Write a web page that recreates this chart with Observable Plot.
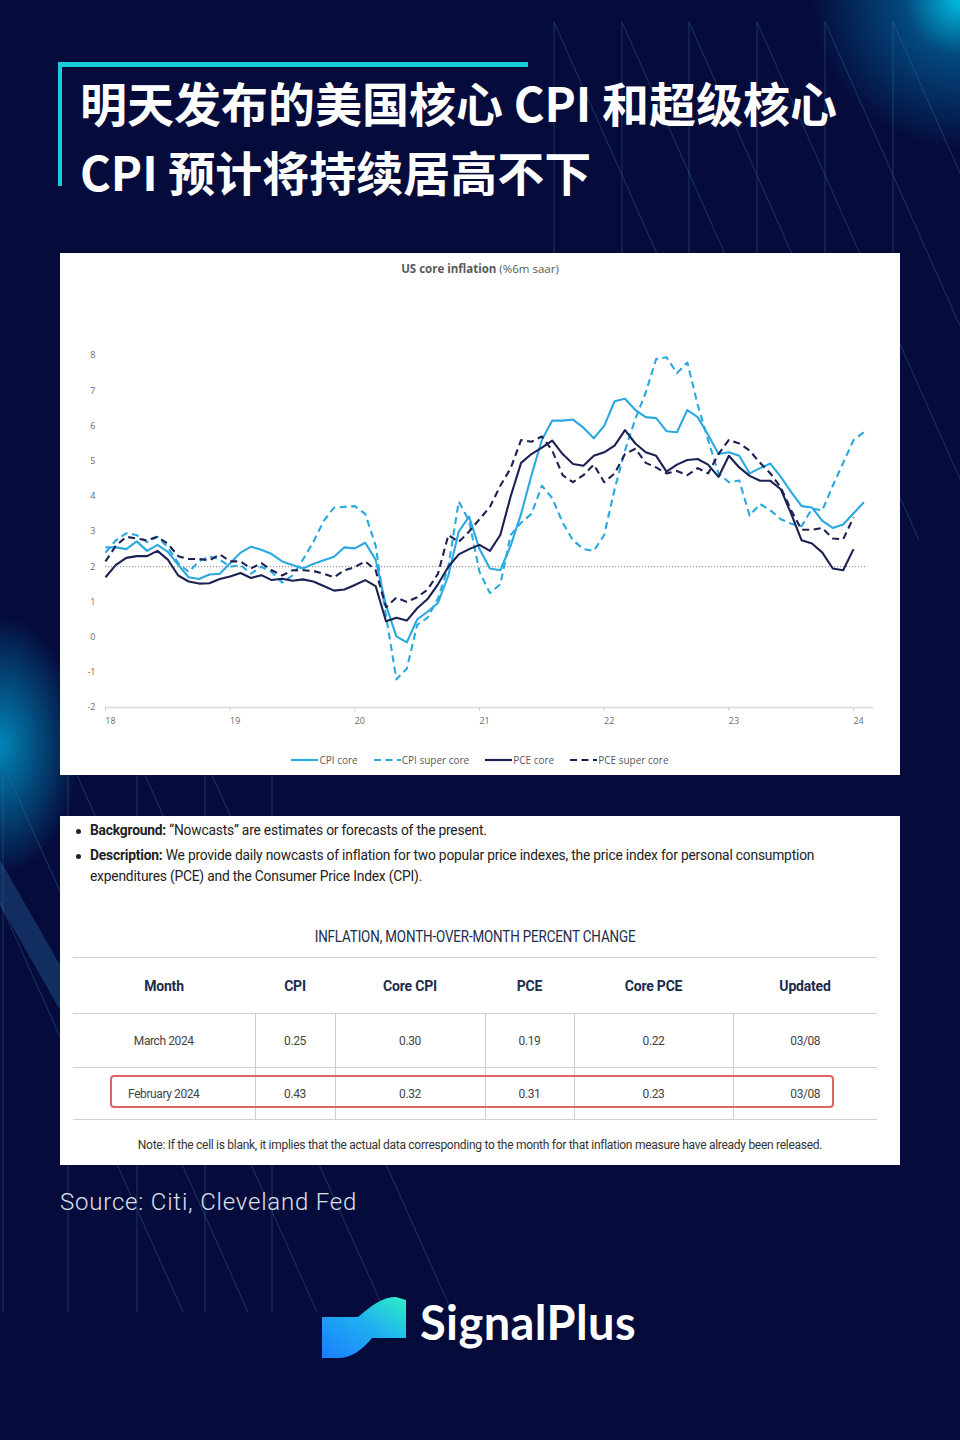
<!DOCTYPE html>
<html><head><meta charset="utf-8">
<script src="https://cdn.jsdelivr.net/npm/d3@7"></script>
<script src="https://cdn.jsdelivr.net/npm/@observablehq/plot@0.6"></script>
<style>
html,body{margin:0;padding:0;background:#050b3b;}
#page{position:relative;width:960px;height:1440px;overflow:hidden;
 background:
  radial-gradient(circle at 960px 0px, rgba(0,200,235,0.95) 0px, rgba(0,150,210,0.45) 55px, rgba(5,11,59,0) 150px),
  radial-gradient(ellipse 80px 130px at 0px 745px, rgba(0,175,225,0.75), rgba(5,11,59,0) 100%),
  #050b3b;}
#deco{position:absolute;left:0;top:0;}
.abs{position:absolute;}
#title{left:80px;top:67px;color:#fff;font-family:"Noto Sans CJK SC",sans-serif;font-weight:700;font-size:47px;line-height:69px;white-space:nowrap;}
#panel1{left:60px;top:253px;width:840px;height:522px;background:#fff;}
#ctitle{left:0;top:8px;width:840px;text-align:center;font-family:"Open Sans",sans-serif;font-size:11.5px;color:#595959;}
#chart{left:0;top:30px;}
#legend{left:0;top:500px;width:840px;display:flex;justify-content:center;gap:16px;font-family:"Open Sans",sans-serif;font-size:10px;color:#595959;}
#legend .it{display:flex;align-items:center;gap:1px;}
#panel2{left:60px;top:816px;width:840px;height:349px;background:#fff;font-family:Roboto,sans-serif;}
.bul{position:absolute;left:30px;font-size:13.8px;color:#222;letter-spacing:-0.2px;line-height:21px;white-space:nowrap;}
.dot{position:absolute;left:16px;width:5px;height:5px;border-radius:50%;background:#222;}
.bul b{font-weight:700;}
#ttitle{left:0;top:110px;width:830px;text-align:center;}
#ttitle span{display:inline-block;font-size:17px;color:#1c2b4b;transform:scaleX(0.79);letter-spacing:-0.2px;white-space:nowrap;}
table{position:absolute;left:13px;top:141px;width:804px;border-collapse:collapse;}
td,th{text-align:center;padding:0;}
th{height:55px;font-size:14px;font-weight:700;color:#1c2b4b;border-top:1px solid #cfcfcf;border-bottom:1px solid #cfcfcf;letter-spacing:-0.2px;}
td{font-size:12px;color:#444;border:1px solid #cfcfcf;letter-spacing:-0.4px;}
tr.r1 td{height:53px;}
tr.r2 td{height:51px;}
td:first-child{border-left:none;}
td:last-child{border-right:none;}
#redbox{left:50px;top:259px;width:720px;height:29px;border:2.5px solid #e06464;border-radius:4px;}
#note{left:0;top:322px;width:840px;text-align:center;font-size:12px;color:#333;letter-spacing:-0.28px;}
#source{left:60px;top:1188px;color:#dde0ec;font-family:Roboto,sans-serif;font-weight:300;font-size:24px;letter-spacing:0.8px;}
#logotext{left:420px;top:1294px;color:#fff;font-family:Lato,sans-serif;font-weight:700;font-size:47px;letter-spacing:0.4px;}
</style></head>
<body>
<div id="page">
<svg id="deco" width="960" height="1440"></svg>
<div id="title" class="abs">明天发布的美国核心 CPI 和超级核心<br>CPI 预计将持续居高不下</div>
<div class="abs" style="left:58px;top:62px;width:470px;height:5px;background:#1ccbd9;"></div>
<div class="abs" style="left:58px;top:62px;width:4px;height:124px;background:#1ccbd9;"></div>

<div id="panel1" class="abs">
 <div id="ctitle" class="abs"><b>US core inflation</b> (%6m saar)</div>
 <div id="chart" class="abs"></div>
 <div id="legend" class="abs"></div>
</div>

<div id="panel2" class="abs">
 <div class="dot" style="top:12.5px;"></div>
 <div class="bul" style="top:4px;"><b>Background:</b> “Nowcasts” are estimates or forecasts of the present.</div>
 <div class="dot" style="top:37.5px;"></div>
 <div class="bul" style="top:29px;"><b>Description:</b> We provide daily nowcasts of inflation for two popular price indexes, the price index for personal consumption<br>expenditures (PCE) and the Consumer Price Index (CPI).</div>
 <div id="ttitle" class="abs"><span>INFLATION, MONTH-OVER-MONTH PERCENT CHANGE</span></div>
 <table id="tbl"></table>
 <div id="redbox" class="abs"></div>
 <div id="note" class="abs">Note: If the cell is blank, it implies that the actual data corresponding to the month for that inflation measure have already been released.</div>
</div>

<div id="source" class="abs">Source: Citi, Cleveland Fed</div>
<svg class="abs" style="left:318px;top:1292px;" width="92" height="72">
 <defs><linearGradient id="lg" x1="0" y1="1" x2="1" y2="0">
  <stop offset="0" stop-color="#1a7dff"/><stop offset="0.55" stop-color="#1fb0f0"/><stop offset="1" stop-color="#2ef0c4"/></linearGradient></defs>
 <path d="M4,25 L40,25 C55,12 65,5 78,5 L88,8 L88,46 L54,46 C44,58 34,66 20,66 L4,66 Z" fill="url(#lg)"/>
</svg>
<div id="logotext" class="abs">SignalPlus</div>
</div>

<script>
// ---- data (monthly, Jan 2018 onward) ----
const cpiCore = [2.55,2.55,2.5,2.72,2.45,2.62,2.42,2.05,1.7,1.65,1.78,1.8,2.1,2.4,2.57,2.48,2.36,2.15,2.05,1.95,2.08,2.18,2.28,2.55,2.52,2.68,2.2,0.9,0.02,-0.15,0.5,0.72,0.97,1.75,3.0,3.42,2.5,1.95,1.9,2.6,3.5,4.6,5.6,6.15,6.15,6.18,5.95,5.65,6.0,6.7,6.77,6.45,6.25,6.22,5.85,5.82,6.45,6.25,5.75,5.2,5.25,5.15,4.65,4.8,4.93,4.55,4.12,3.72,3.68,3.3,3.1,3.2,3.52,3.83];
const cpiSuperCore = [2.4,2.75,2.95,2.9,2.7,2.85,2.55,2.1,1.85,2.15,2.3,2.2,2.0,2.05,1.8,2.0,1.85,1.55,1.75,2.2,2.7,3.3,3.68,3.7,3.72,3.5,2.6,0.6,-1.2,-0.9,0.35,0.55,1.1,2.0,3.85,3.3,1.85,1.25,1.5,2.9,3.25,3.5,4.3,3.95,3.25,2.75,2.5,2.45,2.9,4.2,5.3,6.2,6.95,7.9,7.95,7.5,7.8,6.6,5.6,4.65,4.4,4.45,3.45,3.78,3.6,3.35,3.22,3.15,3.65,3.6,4.3,4.95,5.6,5.82];
const pceCore = [1.7,2.05,2.25,2.3,2.3,2.45,2.2,1.75,1.58,1.52,1.53,1.65,1.72,1.82,1.68,1.76,1.62,1.66,1.6,1.64,1.58,1.45,1.32,1.35,1.48,1.62,1.45,0.45,0.55,0.47,0.82,1.08,1.5,2.0,2.35,2.5,2.62,2.45,2.9,4.0,4.95,5.2,5.38,5.58,5.2,4.92,4.87,5.15,5.25,5.44,5.88,5.5,5.25,5.15,4.7,4.9,5.03,5.06,4.9,4.55,5.15,4.82,4.58,4.44,4.44,4.2,3.5,2.75,2.66,2.4,1.95,1.9,2.5];
const pceSuperCore = [2.15,2.6,2.85,2.8,2.75,2.85,2.65,2.3,2.22,2.22,2.18,2.35,2.15,2.15,1.95,2.1,1.9,1.75,1.9,1.9,1.88,1.8,1.7,1.9,1.99,2.15,1.9,0.85,1.12,1.0,1.13,1.35,1.8,2.9,2.7,3.0,3.35,3.7,4.3,4.8,5.6,5.55,5.7,5.3,4.6,4.4,4.6,4.9,4.4,4.65,5.2,5.35,4.95,4.82,4.65,4.72,4.6,4.8,4.65,5.2,5.6,5.5,5.3,4.95,4.65,4.25,3.6,3.05,3.05,3.1,2.8,2.78,3.4];
const startYear = 18;
const xTicks = [18,19,20,21,22,23,24];
const yTicks = [-2,-1,0,1,2,3,4,5,6,7,8];
const seriesNames = ["CPI core","CPI super core","PCE core","PCE super core"];
const seriesColors = ["#2aa8e0","#2aa8e0","#1b2152","#1b2152"];
const seriesDash = [null,"7,4.5",null,"7,4.5"];
const targetLine = 2;

const tableHeaders = ["Month","CPI","Core CPI","PCE","Core PCE","Updated"];
const tableRows = [
 ["March 2024","0.25","0.30","0.19","0.22","03/08"],
 ["February 2024","0.43","0.32","0.31","0.23","03/08"]
];
const colWidths = [182,80,150,89,159,144];

// ---- chart ----
const allSeries = [cpiCore, cpiSuperCore, pceCore, pceSuperCore];
const lineMarks = allSeries.map((arr, k) =>
  Plot.line(arr.map((v,i)=>({x: startYear + i/12, v})), {
    x: "x", y: "v", stroke: seriesColors[k], strokeWidth: 2.1,
    strokeDasharray: seriesDash[k] || undefined, strokeLinejoin: "round", strokeLinecap: "butt"
  }));

const chart = Plot.plot({
  width: 840, height: 455,
  marginTop: 72, marginBottom: 31, marginLeft: 45, marginRight: 27,
  x: {domain: [18, 24.16]},
  y: {domain: [-2, 8]},
  style: {fontFamily: "Open Sans, sans-serif", fontSize: "9px", color: "#6b6b6b", background: "white", overflow: "visible"},
  marks: [
    Plot.ruleY([-2], {stroke: "#d9d9d9", strokeWidth: 1.3}),
    Plot.axisY({ticks: yTicks, tickSize: 0, tickPadding: 10, label: null, tickFormat: d => String(d)}),
    Plot.axisX({ticks: xTicks, tickSize: 4, tickFormat: () => "", stroke: "#d0d0d0", label: null}),
    Plot.axisX({ticks: xTicks, tickSize: 0, tickPadding: 10, dx: 5, tickFormat: d => String(d), label: null}),
    Plot.ruleY([targetLine], {x1: 18, x2: 24.1, stroke: "#777", strokeWidth: 0.9, strokeDasharray: "1.2,1.8"}),
    ...lineMarks
  ]
});
document.getElementById("chart").appendChild(chart);

// legend
const leg = document.getElementById("legend");
seriesNames.forEach((n,k) => {
  const d = document.createElement("div"); d.className = "it";
  d.innerHTML = `<svg width="27" height="8"><line x1="0" x2="27" y1="4" y2="4" stroke="${seriesColors[k]}" stroke-width="2.2" ${seriesDash[k] ? `stroke-dasharray="${seriesDash[k]}"` : ""}/></svg><span>${n}</span>`;
  leg.appendChild(d);
});

// table
const tbl = document.getElementById("tbl");
let html = "<colgroup>" + colWidths.map(w=>`<col style="width:${w}px">`).join("") + "</colgroup>";
html += "<tr>" + tableHeaders.map(h=>`<th>${h}</th>`).join("") + "</tr>";
tableRows.forEach((r,i)=>{ html += `<tr class="r${i+1}">` + r.map(c=>`<td>${c}</td>`).join("") + "</tr>"; });
tbl.innerHTML = html;

// decorative background lines
const deco = d3.select("#deco");
const g = deco.append("g").attr("stroke","#3a6f9a").attr("stroke-opacity",0.55).attr("stroke-width",0.8).attr("fill","none");
[554,622,689,757,825,893].forEach(x=>{
  g.append("line").attr("x1",x).attr("y1",22).attr("x2",x).attr("y2",520);
  g.append("line").attr("x1",x).attr("y1",22).attr("x2",x+230).attr("y2",540);
});
[3,68,137,205,272].forEach(x=>{
  g.append("line").attr("x1",x).attr("y1",775).attr("x2",x).attr("y2",1312);
  g.append("line").attr("x1",x-60).attr("y1",775).attr("x2",x+180).attr("y2",1312);
});
deco.append("polygon").attr("points","0,860 0,905 60,1010 60,965").attr("fill","#2a6fa8").attr("opacity",0.35);
</script>
</body></html>
